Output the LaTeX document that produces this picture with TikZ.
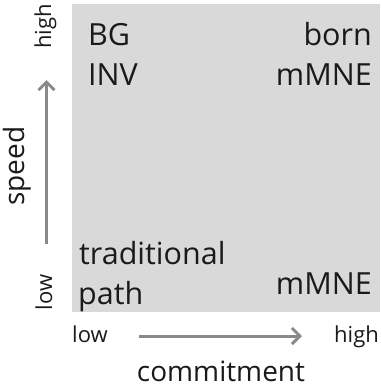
\documentclass[tikz,border=0pt]{standalone}
\usepackage{fontspec}
\setmainfont{Open Sans}
\usetikzlibrary{arrows.meta}
\definecolor{panel}{HTML}{D9D9D9}
\definecolor{axisgray}{HTML}{8A8A8A}
\definecolor{ink}{HTML}{1A1A1A}
\begin{document}
\begin{tikzpicture}[x=1pt,y=-1pt,
  quad/.style={inner sep=0pt, text=ink, font=\fontsize{30.5}{36}\selectfont},
  tick/.style={inner sep=0pt, text=ink, font=\fontsize{22}{26}\selectfont},
  axistitle/.style={inner sep=0pt, text=ink, font=\fontsize{28}{33}\selectfont},
  axisarrow/.style={draw=axisgray, line width=3pt,
    -{Straight Barb[length=8pt,width=16pt]}}]
  \useasboundingbox (0,0) rectangle (380,388);
  % quadrant panel
  \fill[panel] (72,4) rectangle (380,312);
  % quadrant labels
  \node[quad, anchor=base west] (bg)   at (88,45)  {BG};
  \node[quad, anchor=base west] (inv)  at (88,85)  {INV};
  \node[quad, anchor=base east] (born) at (372,45) {born};
  \node[quad, anchor=base east] (mmneA) at (372,85) {mMNE};
  \node[quad, anchor=base west] (trad) at (79,264) {traditional};
  \node[quad, anchor=base west] (path) at (78,304) {path};
  \node[quad, anchor=base east] (mmneB) at (372,294) {mMNE};
  % vertical axis
  \node[tick, rotate=90, anchor=base] (yhigh) at (51,26.5) {high};
  \node[tick, rotate=90, anchor=base] (ylow)  at (52,292.5) {low};
  \node[axistitle, rotate=90, anchor=base] (speed) at (24,166) {speed};
  \coordinate (ystart) at (46.5,244);
  \coordinate (yend) at (46.5,80);
  \draw[axisarrow] (ystart) -- (yend);
  % horizontal axis
  \node[tick, anchor=base west] (xlow)  at (72,342) {low};
  \node[tick, anchor=base east] (xhigh) at (379,342) {high};
  \node[axistitle, anchor=base] (commit) at (221,381.5) {commitment};
  \coordinate (xstart) at (139,336);
  \coordinate (xend) at (302,336);
  \draw[axisarrow] (xstart) -- (xend);
\end{tikzpicture}
\end{document}
